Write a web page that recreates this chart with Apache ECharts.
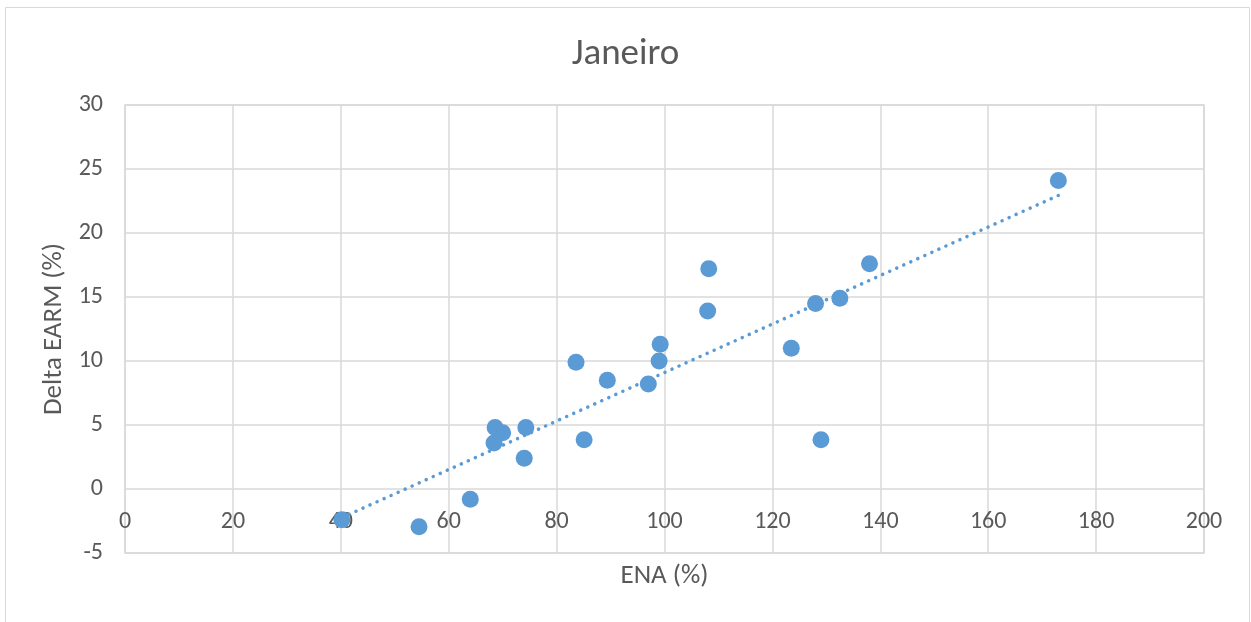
<!DOCTYPE html>
<html>
<head>
<meta charset="utf-8">
<script src="https://cdn.jsdelivr.net/npm/echarts@6/dist/echarts.min.js"></script>
<style>
html,body{margin:0;padding:0;background:#fff;}
#chart{width:1251px;height:622px;}
</style>
</head>
<body>
<div id="chart"></div>
<script>
var title = "Janeiro";
var xName = "ENA (%)";
var yName = "Delta EARM (%)";
var enaValues = [173, 138, 132.5, 128, 123.5, 129, 108.2, 108, 99.2, 99, 97, 89.4, 83.6, 85.1, 74.3, 74, 70, 68.6, 68.4, 64, 54.5, 40.2];
var earmValues = [24.1, 17.6, 14.9, 14.5, 11, 3.85, 17.2, 13.9, 11.3, 10, 8.2, 8.5, 9.9, 3.85, 4.8, 2.4, 4.4, 4.8, 3.6, -0.8, -2.95, -2.4];
var xTicks = {min: 0, max: 200, interval: 20};
var yTicks = {min: -5, max: 30, interval: 5};

var points = enaValues.map(function (x, i) { return [x, earmValues[i]]; });

// linear least-squares trendline (like Excel's linear trendline)
var n = points.length, sx = 0, sy = 0, sxx = 0, sxy = 0;
points.forEach(function (p) { sx += p[0]; sy += p[1]; sxx += p[0] * p[0]; sxy += p[0] * p[1]; });
var slope = (n * sxy - sx * sy) / (n * sxx - sx * sx);
var intercept = (sy - slope * sx) / n;
var xMin = Math.min.apply(null, enaValues), xMax = Math.max.apply(null, enaValues);
var trend = [[xMin, slope * xMin + intercept], [xMax, slope * xMax + intercept]];

var chart = echarts.init(document.getElementById('chart'), null, {renderer: 'canvas'});
var gridColor = '#d9d9d9';
var textColor = '#595959';
var font = 'Carlito, Calibri, "Open Sans", "Noto Sans", sans-serif';
chart.setOption({
  backgroundColor: '#fff',
  animation: false,
  graphic: [{
    type: 'rect', silent: true,
    shape: {x: 5.5, y: 7.5, width: 1244, height: 620},
    style: {fill: 'none', stroke: '#d9d9d9', lineWidth: 1}
  }],
  title: {
    text: title, left: 'center', top: 31,
    textStyle: {color: textColor, fontSize: 37, fontWeight: 'normal', fontFamily: font}
  },
  grid: {left: 125, right: 47, top: 105, bottom: 69, containLabel: false, outerBoundsMode: 'none',
         show: true, borderColor: gridColor, borderWidth: 1.5},
  xAxis: {
    type: 'value', min: xTicks.min, max: xTicks.max, interval: xTicks.interval,
    name: xName, nameLocation: 'middle', nameGap: 10,
    nameTextStyle: {color: textColor, fontSize: 27, fontFamily: font},
    axisLine: {show: false, onZero: false},
    axisTick: {show: false},
    axisLabel: {color: textColor, fontSize: 24, fontFamily: font, margin: -43},
    splitLine: {show: true, lineStyle: {color: gridColor, width: 1.5}}
  },
  yAxis: {
    type: 'value', min: yTicks.min, max: yTicks.max, interval: yTicks.interval,
    name: yName, nameLocation: 'middle', nameGap: 52, nameRotate: 90,
    nameTextStyle: {color: textColor, fontSize: 27, fontFamily: font},
    axisLine: {show: false},
    axisTick: {show: false},
    axisLabel: {color: textColor, fontSize: 24, fontFamily: font, margin: 22},
    splitLine: {show: true, lineStyle: {color: gridColor, width: 1.5}}
  },
  series: [{
    type: 'line', data: trend, showSymbol: false, symbol: 'none',
    lineStyle: {color: '#5B9BD5', width: 3.5, type: [0.1, 7.6], cap: 'round'},
    z: 3
  }, {
    type: 'scatter', data: points, symbol: 'circle', symbolSize: 17,
    itemStyle: {color: '#5B9BD5', opacity: 1},
    z: 4
  }]
});
</script>
</body>
</html>
